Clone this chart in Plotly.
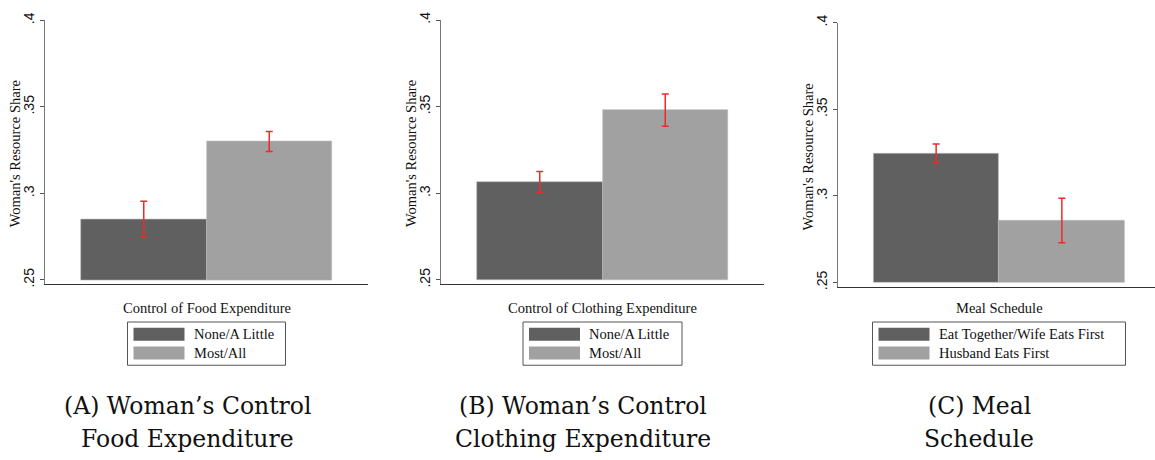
import plotly.graph_objects as go

# ---------------- data ----------------
x_titles = ["Control of Food Expenditure", "Control of Clothing Expenditure", "Meal Schedule"]
dark_labels = ["None/A Little", "None/A Little", "Eat Together/Wife Eats First"]
light_labels = ["Most/All", "Most/All", "Husband Eats First"]
dark_values = [0.285, 0.3065, 0.3245]
light_values = [0.330, 0.348, 0.2858]
dark_err = [0.0104, 0.0060, 0.0055]
light_err = [0.0058, 0.0093, 0.0129]
caption_line1 = ["(A) Woman’s Control", "(B) Woman’s Control", "(C) Meal"]
caption_line2 = ["Food Expenditure", "Clothing Expenditure", "Schedule"]
y_title = "Woman's Resource Share"
y_tickvals = [0.25, 0.30, 0.35, 0.40]
y_ticktext = [".25", ".3", ".35", ".4"]
bar_base = 0.25

# ---------------- layout constants (pixels) ----------------
W, H = 1155, 460
DARK = "#606060"
LIGHT = "#a1a1a1"
ERR = "#ee2a2a"
SERIF = "Liberation Serif, Times New Roman, serif"
CAPSERIF = "DejaVu Serif, serif"
SANS = "Liberation Sans, Arial, sans-serif"
FS = 14.5

# plot areas: (left, right, top, bottom) in px, x-range
panels = [
    dict(l=45, r=368, t=12.7, b=283, xr=[-0.787, 1.787], legw=158, capx=187.5),
    dict(l=441, r=764, t=12.3, b=283, xr=[-0.787, 1.787], legw=159, capx=583.3),
    dict(l=837.7, r=1155, t=15, b=285.7, xr=[-0.783, 1.741], legw=253, capx=979),
]
y_range = [0.2475, 0.4]


def px(x):
    return x / W


def py(y):
    return 1 - y / H


fig = go.Figure()
shapes = []
annotations = []

for i, p in enumerate(panels):
    n = "" if i == 0 else str(i + 1)
    xa, ya = "x" + n, "y" + n
    for val, err, col, lab, xpos in [
        (dark_values[i], dark_err[i], DARK, dark_labels[i], 0),
        (light_values[i], light_err[i], LIGHT, light_labels[i], 1),
    ]:
        fig.add_trace(go.Bar(
            x=[xpos], y=[val - bar_base], base=bar_base, width=1,
            name=lab, showlegend=False,
            marker=dict(color=col, line=dict(color="#b8b8b8", width=0.6)),
            error_y=dict(type="data", array=[err], color=ERR, thickness=1.5, width=3.5),
            xaxis=xa, yaxis=ya,
        ))
    dom_x = [px(p["l"]), min(1.0, px(p["r"]))]
    dom_y = [py(p["b"]), py(p["t"])]
    fig.update_layout(**{
        "xaxis" + n: dict(domain=dom_x, range=p["xr"], showticklabels=False, ticks="",
                          showgrid=False, zeroline=False, showline=True,
                          linecolor="#333333", linewidth=1, anchor=ya, fixedrange=True),
        "yaxis" + n: dict(domain=dom_y, range=y_range, tickvals=y_tickvals, ticktext=y_ticktext,
                          tickangle=-90, ticks="outside", ticklen=4, tickcolor="#555555",
                          tickfont=dict(family=SANS, size=14, color="#111111"),
                          showgrid=False, zeroline=False, showline=True,
                          linecolor="#777777", linewidth=1, anchor=xa, fixedrange=True),
    })
    # y-axis title
    annotations.append(dict(x=px(p["l"] - 30), y=py((p["t"] + p["b"]) / 2 + 2), xref="paper", yref="paper",
                            text=y_title, textangle=-90, showarrow=False,
                            xanchor="center", yanchor="middle",
                            font=dict(family=SERIF, size=FS, color="#111111")))
    # x title centered over the bars
    cx = p["l"] + (p["r"] - p["l"]) / 2 if i < 2 else 999
    annotations.append(dict(x=px(cx), y=py(307), xref="paper", yref="paper",
                            text=x_titles[i], showarrow=False, xanchor="center", yanchor="middle",
                            font=dict(family=SERIF, size=FS, color="#111111")))
    # legend box
    bl = cx - p["legw"] / 2
    br = cx + p["legw"] / 2
    shapes.append(dict(type="rect", xref="paper", yref="paper",
                       x0=px(bl), x1=px(br), y0=py(366), y1=py(321.7),
                       line=dict(color="#555555", width=1), fillcolor="white"))
    for (y0, y1, col, lab) in [(327.7, 341, DARK, dark_labels[i]), (346.7, 360, LIGHT, light_labels[i])]:
        shapes.append(dict(type="rect", xref="paper", yref="paper",
                           x0=px(bl + 6), x1=px(bl + 57), y0=py(y1), y1=py(y0),
                           line=dict(width=0), fillcolor=col))
        annotations.append(dict(x=px(bl + 64), y=py((y0 + y1) / 2), xref="paper", yref="paper",
                                text=lab, showarrow=False, xanchor="left", yanchor="middle",
                                font=dict(family=SERIF, size=FS, color="#111111")))
    # caption (two lines)
    for line_text, ly in [(caption_line1[i], 408), (caption_line2[i], 442)]:
        annotations.append(dict(x=px(p["capx"]), y=py(ly), xref="paper", yref="paper",
                                text=line_text, showarrow=False, xanchor="center", yanchor="middle",
                                font=dict(family=CAPSERIF, size=23.5, color="#111111")))

fig.update_layout(
    width=W, height=H, margin=dict(l=0, r=0, t=0, b=0),
    paper_bgcolor="white", plot_bgcolor="white",
    shapes=shapes, annotations=annotations, bargap=0,
    showlegend=False,
)

fig.write_html("out.html")
